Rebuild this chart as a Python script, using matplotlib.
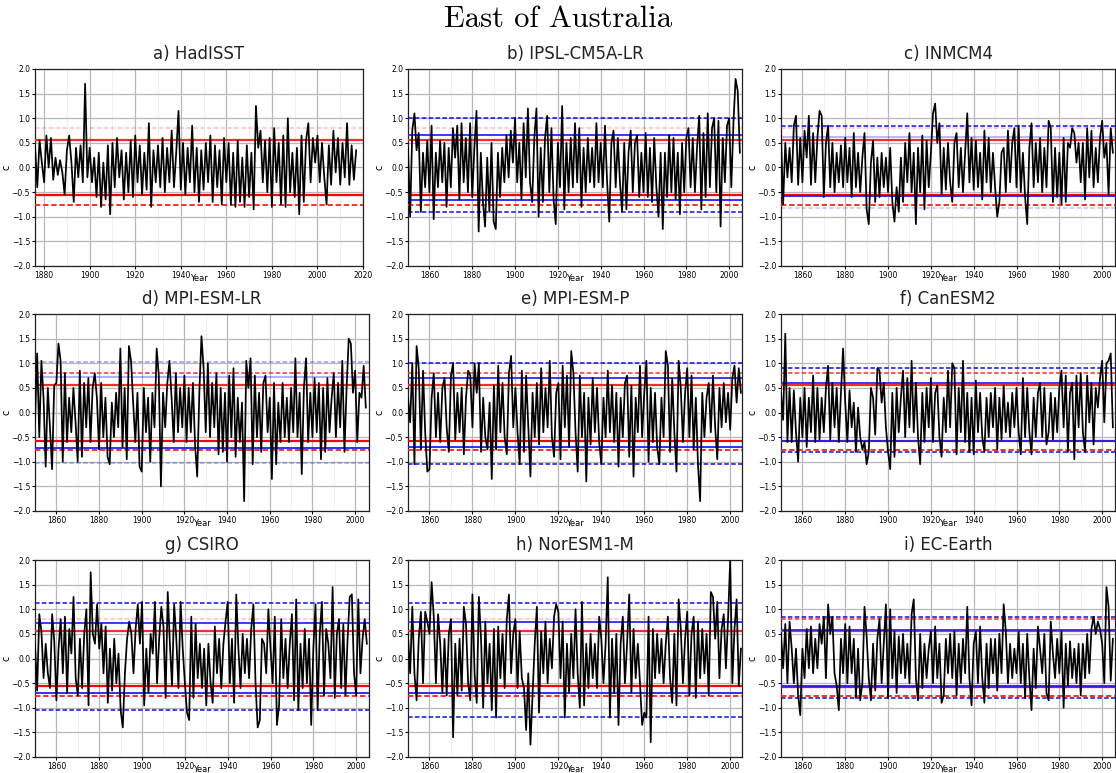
import numpy as np
import matplotlib
matplotlib.use("Agg")
import matplotlib.pyplot as plt

titles = ["a) HadISST", "b) IPSL-CM5A-LR", "c) INMCM4",
          "d) MPI-ESM-LR", "e) MPI-ESM-P", "f) CanESM2",
          "g) CSIRO", "h) NorESM1-M", "i) EC-Earth"]
start_years = [1876, 1850, 1850, 1850, 1850, 1850, 1850, 1850, 1850]

hadisst = [0.45, -0.4, 0.55, 0.1,
    -0.3, 0.65, 0.0, 0.6, -0.25, 0.2, -0.15, 0.15, -0.1, -0.55,
    0.35, 0.65, 0.1, -0.7, 0.4, -0.2, 0.45, -0.3, 1.7, -0.2,
    0.4, -0.3, 0.2, -0.6, 0.3, -0.8, 0.1, -0.65, 0.45, -0.95,
    0.5, -0.4, 0.6, -0.2, 0.35, -0.65, 0.3, -0.5, 0.55, -0.6,
    0.65, -0.3, 0.45, -0.55, 0.3, -0.45, 0.9, -0.8, 0.35, -0.3,
    0.45, -0.4, 0.6, -0.5, 0.4, -0.3, 0.75, -0.4, 0.3, 1.15,
    -0.45, 0.5, -0.55, 0.4, -0.3, 0.85, -0.5, 0.4, -0.7, 0.35,
    -0.45, 0.5, -0.3, 0.65, -0.7, 0.45, -0.4, 0.35, -0.75, 0.6,
    -0.3, 0.5, -0.75, 0.3, -0.8, 0.55, -0.7, 0.2, -0.8, 0.45,
    -0.6, 0.3, -0.85, 1.25, 0.4, 0.75, -0.3, 0.55, -0.5, 0.6,
    -0.8, 0.8, -0.3, 0.5, -0.75, 0.65, -0.8, 1.0, -0.5, 0.3,
    -0.6, 0.4, -0.95, 0.65, -0.7, 0.55, 0.9, -0.3, 0.6, 0.1,
    0.65, -0.3, 0.5, -0.2, -0.75, 0.45, -0.35, 0.75, -0.1, 0.6,
    -0.35, 0.5, -0.2, 0.9, -0.35, 0.45, -0.25, 0.35]

ipsl = [0.4, -1.0, 0.75, 1.1, 0.35, 0.7, -0.9, 0.3, -0.4, 0.55,
    -0.5, 0.85, -1.05, 0.3, -0.4, 0.55, -0.3, 0.5, -0.8, 0.4,
    -0.4, 0.8, 0.2, 0.85, -0.65, 0.9, -0.3, 0.6, -0.5, 0.9,
    -0.6, 0.4, 1.15, -1.3, 0.3, -0.7, -1.2, 0.2, -0.9, 0.5,
    -1.1, -1.25, 0.3, -0.6, 0.4, -0.3, 0.65, -0.2, 0.75, 0.1,
    1.0, -0.3, 0.5, -0.65, 0.9, -0.2, 1.2, -0.3, -0.7, 0.6,
    1.2, -1.0, 0.4, -0.7, 0.6, 1.05, -0.5, 0.8, -0.65, -1.15,
    0.5, -0.4, 1.25, -0.85, 0.5, -0.5, 0.6, -0.4, 0.9, -0.3,
    0.8, -0.8, 0.4, -0.5, 0.6, -0.3, 0.4, -0.4, 0.9, -0.3,
    0.5, -0.4, 0.85, -0.3, -1.1, 0.5, 0.75, -0.4, 0.6, -0.3,
    -0.9, 0.5, -0.85, 0.3, 0.75, -0.5, 0.5, 0.65, -0.6, 0.3,
    -0.5, 0.7, -0.6, 0.4, -0.7, 0.6, -0.4, -1.0, 0.3, -1.25,
    0.3, -0.6, 0.65, -0.5, 0.6, -0.65, 0.3, -0.95, 0.5, -0.5,
    0.6, 0.8, -0.4, 0.6, -0.5, 0.4, 1.05, -0.85, 0.7, -0.6,
    1.1, -0.4, 0.8, 1.0, -0.5, 0.95, -1.2, 0.6, -0.3, 0.85,
    1.0, -0.4, 0.9, 1.8, 1.55, 0.3]

inmcm4 = [0.65, -0.75, 0.5, -0.2, 0.4, -0.3, 0.85, 1.05, -0.35, 0.6,
    -0.3, 0.75, 0.2, 1.05, -0.35, 0.7, -0.3, 0.6, 1.15, 1.05,
    -0.6, 0.5, 0.85, -0.4, 0.5, -0.5, 0.3, -0.3, 0.45, -0.4,
    0.6, -0.3, 0.4, -0.6, 0.7, -0.4, 0.3, -0.5, 0.2, 0.7,
    -0.85, -1.15, 0.1, 0.55, -0.7, 0.2, -0.6, 0.3, -0.4, 0.2,
    -0.5, 0.4, -0.7, -1.1, -0.4, -0.9, 0.2, -0.7, 0.5, -0.3,
    0.7, -0.5, 0.3, -1.15, 0.4, -0.5, 0.65, -0.85, 0.55, -0.4,
    0.3, 1.1, 1.3, 0.5, 0.9, -0.55, 0.4, -0.45, 0.5, -0.3,
    -0.7, 0.5, 0.7, -0.4, 0.4, -0.5, 0.3, 1.1, -0.3, 0.6,
    -0.45, 0.55, -0.4, 0.3, -0.65, 0.75, -0.3, 0.6, -0.5, 0.3,
    -0.4, -1.0, -0.7, 0.3, 0.4, -0.5, 0.75, -0.3, 0.5, 0.8,
    -0.4, 0.85, -0.5, 0.3, -0.6, -1.15, 0.4, 0.9, -0.4, 0.5,
    -0.3, 0.6, -0.5, 0.4, -0.4, 0.95, 0.8, -0.7, 0.4, -0.6,
    0.3, -0.75, 0.6, -0.7, 0.5, 0.4, 0.8, 0.7, 0.1, 0.5,
    -0.3, 0.5, -0.65, 0.8, -0.2, 0.75, -0.4, 0.4, -0.3, 0.6,
    0.95, 0.2, 0.5, -0.55, 0.8, 0.3]

mpi_lr = [-0.2, 1.2, -0.5, 1.05, 0.3, -1.1, 0.5, -0.3, -1.15, 0.55,
    0.6, 1.4, 1.05, -1.0, 0.8, -0.6, 0.3, -0.4, 0.5, -0.2,
    -1.0, 0.85, -0.9, 0.6, -0.3, 0.7, -0.6, 0.5, 0.8, 0.3,
    -0.75, 0.6, -0.5, 0.3, -0.9, -1.05, 0.2, -0.5, 0.4, -0.3,
    1.3, -0.7, 0.5, -0.95, 1.35, 1.05, 0.2, -0.6, 0.4, -1.1,
    -1.2, 0.5, -0.4, 0.3, -1.0, 0.4, -0.3, 1.3, 0.75, -1.5,
    0.4, -0.3, 0.6, 1.05, 0.3, -0.6, 0.8, -0.4, 0.5, -0.3,
    0.75, -0.6, 0.5, -0.4, 0.6, -0.65, -1.3, 0.4, 1.55, 0.9,
    -0.4, 1.0, -0.5, 0.6, -0.3, 0.8, -0.85, 0.5, -0.8, 0.4,
    -1.0, 0.75, -0.5, 0.9, -0.9, 0.3, -0.6, 0.2, -1.8, 1.05,
    0.5, 1.1, -1.05, 0.75, -0.5, 0.4, -0.8, 0.6, 0.75, -0.4,
    0.3, -1.35, 0.6, -1.05, 0.2, -0.6, 0.6, -0.5, 0.3, -0.6,
    0.5, -0.4, 1.1, -0.5, 0.4, -1.25, 0.5, 1.1, -0.6, 0.4,
    -0.5, 0.7, -0.4, 0.6, -0.95, 0.5, -0.8, 0.7, -0.4, 0.3,
    0.8, -0.5, 0.6, -0.3, 1.05, -0.8, 0.5, 1.5, 1.4, 0.4,
    0.85, -0.6, 0.4, 0.3, 0.95, 0.1]

mpi_p = [0.3, -0.2, 1.0, -1.05, 1.35, 0.9, -0.75, 0.85, -0.4, -1.2,
    -1.15, 0.3, 0.8, -0.5, 0.4, -0.6, 0.5, 0.7, -0.3, -0.8,
    0.75, 1.0, -0.55, 0.4, -0.4, 0.5, -0.85, 0.3, 0.85, 0.75,
    -0.3, 1.0, 0.4, 1.0, -0.8, 0.3, -0.5, -0.75, 0.2, -1.35,
    0.55, -0.75, 0.95, -0.4, 0.6, -0.5, -0.85, 0.8, 1.15, -0.3,
    0.5, -0.4, -1.05, 0.85, -0.8, 0.75, -0.3, -1.3, 0.4, -0.5,
    0.6, -0.65, 0.9, -0.4, 0.5, -0.3, 1.05, -0.5, -0.9, 0.4,
    0.6, -0.95, 0.95, -0.3, 0.75, -0.7, 1.25, 0.8, -0.4, -1.2,
    0.75, -0.5, 0.4, -1.4, 0.3, -0.65, 0.7, -0.4, 0.5, -0.6,
    -1.05, 0.3, -0.5, 0.85, -0.4, 0.55, -0.6, 0.4, -1.1, 0.3,
    -0.5, 0.6, 0.75, -0.9, 0.55, -1.3, 0.3, -0.4, 0.95, -0.5,
    0.4, 1.05, -1.0, 0.5, -0.6, 0.4, -0.7, -1.05, 0.3, -0.5,
    1.25, 0.95, -0.8, 0.7, -0.4, -1.2, 1.05, 0.5, -0.6, 0.4,
    0.9, -0.5, 0.75, -0.75, 0.3, -1.05, -1.8, 0.4, -0.5, 0.3,
    0.6, -0.4, 0.75, -0.3, -0.95, 0.5, -0.3, 0.6, -0.2, 0.4,
    -0.35, 0.7, 0.95, 0.2, 0.9, 0.4]

canesm2 = [0.4, -0.15, 1.6, -0.6, 0.5, -0.6, 0.45, -0.4, -1.0, 0.3,
    -0.5, 0.5, -0.7, 0.3, -0.4, 0.75, -0.6, 0.5, -0.55, 0.3,
    -0.4, 0.5, 0.95, -0.55, 0.6, -0.3, 0.5, -0.6, 0.4, 1.3,
    0.2, -0.6, 0.45, -0.3, 0.2, -0.8, 0.1, -0.5, -0.75, -0.6,
    -1.05, -0.8, 0.5, 0.3, -0.45, 0.9, 0.85, 0.2, 0.6, -0.3,
    -0.8, -1.15, 0.4, -0.9, 0.5, -0.4, 0.3, 0.85, -0.5, 0.7,
    -0.3, 1.05, -0.4, 0.6, -0.5, -1.05, 0.4, -0.6, 0.5, -0.3,
    0.7, -0.6, 0.4, 0.55, -0.5, -0.9, 0.3, -0.4, 0.85, -0.3,
    1.0, 0.9, -0.85, 0.5, -0.4, 1.05, -0.6, 0.4, -0.8, 0.3,
    -0.85, 0.65, -0.4, 0.4, -0.5, -0.8, 0.3, -0.5, 0.4, -0.3,
    0.5, -0.75, 0.3, -0.55, 0.55, -0.4, 0.2, -0.5, 0.4, -0.3,
    0.5, -0.4, -0.85, 0.7, -0.5, 0.5, -0.4, -0.85, 0.3, -0.5,
    0.4, 0.6, -0.5, 0.5, -0.65, -0.4, 0.4, -0.55, 0.3, -0.4,
    0.5, 0.85, -0.3, 0.75, -0.8, 0.4, 0.6, -0.95, 0.75, -0.3,
    0.8, -0.4, -0.8, 0.75, -0.2, 0.6, -0.65, 0.5, 0.1, 0.7,
    1.05, -0.2, 1.0, 1.05, 1.2, -0.3]

csiro = [0.3, -0.65, 0.9, 0.55, -0.4, 0.3, -0.3, -0.6, 0.9, 0.35,
    -0.85, 0.2, 0.8, -0.3, 0.85, -0.7, 0.6, 0.1, 1.25, -0.4,
    -0.75, 0.4, -0.6, 0.5, 1.0, -0.95, 1.75, 0.5, 0.3, 1.1,
    0.2, 0.7, -0.3, 0.65, -0.9, 0.2, -0.65, 0.4, -0.5, 0.1,
    -1.05, -1.4, -0.3, 0.4, 0.75, 0.5, -0.3, 0.6, 1.1, 0.3,
    1.15, -0.95, 0.2, -0.7, 0.5, 0.1, 1.15, -0.5, 0.4, 1.05,
    0.65, -0.8, 1.35, 0.3, -0.55, 1.1, 0.4, -0.6, 1.15, 0.2,
    -0.5, -1.1, -1.25, 0.85, -0.8, 0.7, -0.4, 0.3, -0.6, 0.2,
    -0.95, 0.3, -0.5, -0.9, 0.65, -0.3, 0.4, -0.6, 0.3, 0.75,
    1.15, -0.5, 0.4, -0.9, 1.3, 0.2, -0.6, 0.5, -0.3, 0.4,
    -0.4, 0.6, 1.1, -0.5, -1.4, -1.25, 0.4, 0.3, -0.3, 1.0,
    0.2, -0.5, 0.85, -1.35, -0.95, 0.8, -0.4, 0.4, -0.6, 0.3,
    0.9, -0.85, 1.2, -1.05, 0.3, -0.6, 0.6, -0.5, 0.4, -1.35,
    0.2, 1.1, -1.05, 0.5, 1.15, -0.75, 0.6, 0.3, -0.4, 1.45,
    -0.8, 0.5, 0.8, -0.6, 0.7, -0.75, 0.4, 1.25, 1.3, -0.3,
    -0.75, 1.2, -0.3, 0.4, 0.8, 0.3]

noresm = [0.45, -0.3, 1.05, -0.3, -0.85, 0.4, 0.95, -0.5, 0.95, 0.75,
    0.5, 1.55, 0.85, -0.5, 0.9, 0.3, -0.7, 0.4, -0.75, 0.5,
    0.8, -1.6, 0.3, -0.75, 0.4, -0.65, 1.05, 0.7, -0.5, -0.85,
    1.3, -0.3, -0.9, 1.25, 0.4, -1.0, 0.75, -0.5, 0.3, -1.05,
    0.6, -1.2, 0.65, -0.4, 0.5, -0.6, 0.8, 1.3, -0.3, 0.5,
    0.8, -0.6, 0.55, -0.4, -0.6, -1.45, -0.3, -1.75, -0.75, 0.3,
    1.05, -1.1, 0.55, -0.3, 0.75, -0.5, 0.4, -0.2, 0.85, 1.1,
    0.95, -0.4, 0.75, -1.2, 0.3, -0.7, 0.5, -0.4, 1.0, -0.3,
    -1.0, 1.15, -0.95, 0.3, -0.6, 0.5, -0.4, 0.3, -0.6, 0.85,
    0.4, -0.5, 0.3, 1.65, -1.2, 0.4, -0.7, 0.5, -1.35, 0.3,
    0.85, -0.5, 0.3, 1.3, -0.7, 0.6, -0.4, 0.3, -0.5, -1.35,
    -1.1, -1.2, 0.85, -1.7, 0.6, -0.4, 0.5, -0.3, 0.4, -0.5,
    0.3, 0.85, -0.4, -0.9, 0.5, -0.95, 1.2, 0.6, -0.5, 0.4,
    0.95, -0.75, 0.5, 0.85, -0.8, 0.75, -0.4, 0.6, -0.3, 0.5,
    -0.75, 1.35, 1.25, 0.4, 1.15, -0.4, 0.6, 0.9, -0.2, 0.8,
    2.0, -0.5, 0.6, 1.2, -0.55, 0.2]

ecearth = [0.5, -0.2, 0.7, -0.5, 0.75, 0.2, -0.5, 0.2, -0.75, -1.15,
    0.2, -0.4, 0.6, -0.2, 0.65, -0.3, 0.4, -0.2, 0.7, 0.3,
    0.85, -0.4, 1.1, 0.5, 0.85, -0.3, -0.55, -1.05, 0.4, -0.3,
    0.7, -0.5, 0.65, -0.3, 0.4, -0.8, 0.2, -0.85, -0.5, 1.05,
    0.45, -0.4, -0.85, 0.3, -0.65, 0.4, 0.8, -0.5, 0.3, 1.1,
    -0.8, 1.0, -0.4, 0.55, -0.7, 0.45, -0.3, 0.5, -0.4, 0.3,
    -0.5, 0.9, 1.2, -0.4, -0.85, 0.5, -0.6, 0.3, -0.4, 0.2,
    0.55, -0.5, 0.65, -0.4, 0.3, -0.9, -0.75, 0.4, -0.3, 0.5,
    -0.4, 0.55, -0.75, 0.3, -0.5, 0.4, -0.3, 1.05, -0.4, -0.95,
    0.3, 0.55, -0.5, 0.65, -0.4, -0.9, 0.3, -0.6, 0.4, -0.3,
    0.4, -0.65, 0.5, -0.3, 1.1, 0.55, -0.5, 0.3, -0.4, 0.2,
    -0.3, 0.55, -0.5, 0.3, -0.8, 0.5, -0.4, -1.05, 0.2, -0.6,
    0.65, 0.2, -0.3, 0.5, -0.7, -0.85, 0.75, 0.1, -0.4, 0.4,
    -0.3, 0.55, -1.0, 0.3, -0.55, 0.35, -0.4, 0.2, -0.5, 0.3,
    -0.75, 0.3, -0.4, 0.5, -0.3, 0.6, 0.85, 0.5, 0.75, 0.6,
    0.3, -0.5, 1.45, 1.05, -0.45, 0.4]

series = [hadisst, ipsl, inmcm4, mpi_lr, mpi_p, canesm2, csiro, noresm, ecearth]

# threshold lines (degC)
red_solid_hi = [0.55, 0.55, 0.55, 0.55, 0.55, 0.55, 0.55, 0.55, 0.55]
red_solid_lo = [-0.56, -0.56, -0.56, -0.57, -0.57, -0.57, -0.56, -0.56, -0.57]
red_dash_hi = [0.8, 0.8, 0.8, 0.8, 0.8, 0.8, 0.8, 0.8, 0.8]
red_dash_lo = [-0.76, -0.76, -0.76, -0.76, -0.76, -0.76, -0.76, -0.76, -0.76]
blue_solid_hi = [None, 0.65, 0.62, 0.72, 0.70, 0.60, 0.73, 0.74, 0.58]
blue_solid_lo = [None, -0.65, -0.57, -0.72, -0.70, -0.57, -0.70, -0.70, -0.56]
blue_dash_hi = [None, 1.0, 0.85, 1.03, 1.0, 0.9, 1.12, 1.12, 0.85]
blue_dash_lo = [None, -0.9, -0.82, -1.02, -1.05, -0.8, -1.05, -1.18, -0.8]

xlims = [(1876, 2020), (1850, 2006), (1850, 2006), (1850, 2006.5), (1850, 2005.5),
         (1850, 2006), (1850, 2006), (1850, 2005.5), (1850, 2006)]
xtick_sets = [list(range(1880, 2021, 20))] + [list(range(1860, 2001, 20))] * 8
yticks = [-2.0, -1.5, -1.0, -0.5, 0.0, 0.5, 1.0, 1.5, 2.0]

# styling (not data)
red_dash_hi_alpha = [0.3, 0.3, 0.3, 1, 1, 1, 0.3, 0.3, 1]
blue_solid_hi_alpha = [1, 1, 0.35, 0.4, 1, 1, 1, 1, 1]
blue_dash_hi_alpha = [1, 1, 1, 0.4, 1, 1, 1, 1, 1]
blue_dash_lo_alpha = [1, 1, 0.25, 0.35, 1, 1, 1, 1, 1]

W, H = 1116, 773
fig = plt.figure(figsize=(W / 100, H / 100), dpi=100)
col_left = [35, 408, 781]
row_top = [69, 314, 560]
ax_h = 197

for i in range(9):
    r, c = divmod(i, 3)
    w = 328 if i == 0 else 334
    ax = fig.add_axes([col_left[c] / W, 1 - (row_top[r] + ax_h) / H, w / W, ax_h / H])
    ax.set_xticks(xtick_sets[i])
    ax.set_yticks(yticks)
    ax.set_xticks(list(range(1850, 2021, 10)), minor=True)
    ax.tick_params(axis='x', which='minor', length=0)
    ax.grid(True, which='major', color='#b8b8b8', lw=0.9)
    ax.grid(True, which='minor', axis='x', color='#eeeeee', lw=0.6)
    ax.set_axisbelow(True)

    ax.axhline(red_solid_hi[i], color='#ff2a2a', lw=1.6, zorder=3)
    ax.axhline(red_solid_lo[i], color='#ff0000', lw=1.6, zorder=3)
    ax.axhline(red_dash_hi[i], color='#ff3030', lw=1.1, ls='--', dashes=(3, 1.5),
               alpha=red_dash_hi_alpha[i], zorder=3)
    ax.axhline(red_dash_lo[i], color='#ff2020', lw=1.3, ls='--', dashes=(3, 1.5), zorder=3)
    if blue_solid_hi[i] is not None:
        ax.axhline(blue_solid_hi[i], color='#2a2aff', lw=1.3, alpha=blue_solid_hi_alpha[i], zorder=3)
        ax.axhline(blue_solid_lo[i], color='#2020ff', lw=1.3, zorder=3)
        ax.axhline(blue_dash_hi[i], color='#1010e0', lw=1.1, ls='--', dashes=(3, 1.5),
                   alpha=blue_dash_hi_alpha[i], zorder=3)
        ax.axhline(blue_dash_lo[i], color='#1010e0', lw=1.1, ls='--', dashes=(3, 1.5),
                   alpha=blue_dash_lo_alpha[i], zorder=3)

    yrs = np.arange(start_years[i], start_years[i] + len(series[i]))
    ax.plot(yrs, series[i], color='black', lw=1.25, zorder=5)

    ax.set_xlim(*xlims[i])
    ax.set_ylim(-2.0, 2.0)
    ax.set_title(titles[i], fontsize=12, pad=7, color='#222222')
    ax.tick_params(labelsize=5.5, length=2, pad=1.5)
    ax.set_xlabel("Year", fontsize=6, labelpad=-4)
    ax.set_ylabel("c", fontsize=7, labelpad=0)
    for s in ax.spines.values():
        s.set_color('#222222')
        s.set_linewidth(0.9)

fig.text(0.5, 1 - 19 / H, "East of Australia", ha='center', va='center',
         fontsize=22, family='cmr10')
fig.savefig("out.png", dpi=100)
